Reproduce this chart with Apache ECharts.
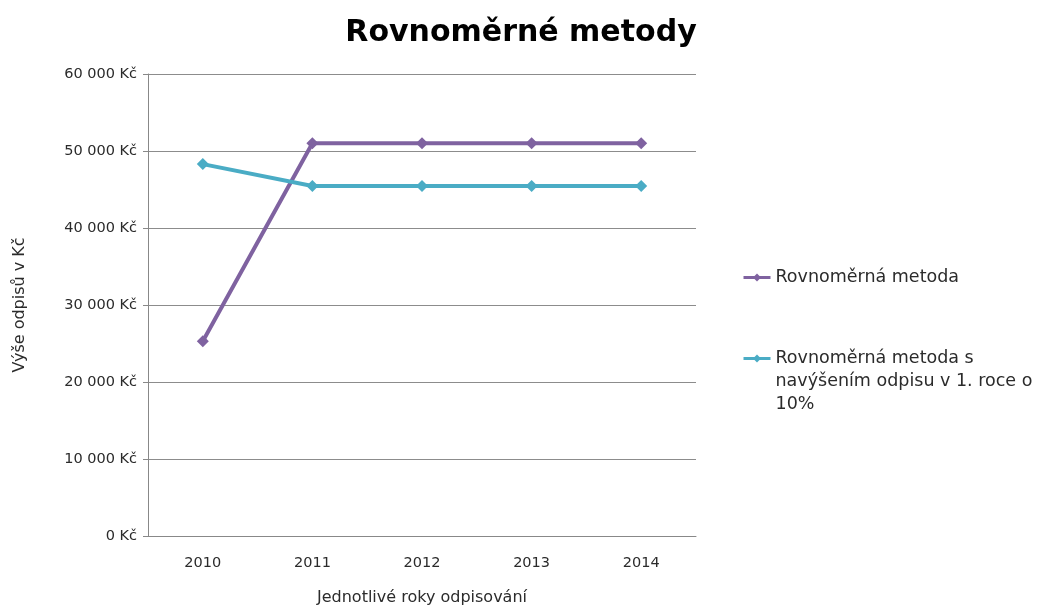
<!DOCTYPE html>
<html><head><meta charset="utf-8">
<script src="https://cdn.jsdelivr.net/npm/echarts@6/dist/echarts.min.js"></script>
<style>html,body{margin:0;padding:0;background:#fff}#c{width:1044px;height:605px}</style>
</head><body><div id="c"></div>
<script>
const categories = ['2010','2011','2012','2013','2014'];
const seriesNames = ['Rovnoměrná metoda', 'Rovnoměrná metoda s navýšením odpisu v 1. roce o 10%'];
const rovnomerna = [25300, 51000, 51000, 51000, 51000];
const navysena = [48300, 45450, 45450, 45450, 45450];
const yTicks = [0, 10000, 20000, 30000, 40000, 50000, 60000];

const fmt = v => (v === 0 ? '0' : String(v).replace(/\B(?=(\d{3})+(?!\d))/g, ' ')) + ' Kč';
const font = 'DejaVu Sans';
const txt = '#2b2b2b';
const chart = echarts.init(document.getElementById('c'));
chart.setOption({
  animation: false,
  title: { text: 'Rovnoměrné metody', left: 516, top: 13, textAlign: 'center',
    textStyle: { fontFamily: font, fontWeight: 'bold', fontSize: 30, color: '#000' } },
  grid: { left: 148, right: 348, top: 74, bottom: 69, outerBoundsMode: 'none', containLabel: false },
  legend: {
    orient: 'vertical', left: 737, top: 261, itemWidth: 27, itemHeight: 10, itemGap: 12,
    lineStyle: { width: 3 },
    textStyle: { fontFamily: font, fontSize: 17.5, color: txt, lineHeight: 23 },
    data: [ { name: seriesNames[0] }, { name: seriesNames[1] } ],
    formatter: n => n === seriesNames[1] ? '\n\nRovnoměrná metoda s\nnavýšením odpisu v 1. roce o\n10%' : n
  },
  xAxis: {
    type: 'category', data: categories, boundaryGap: true,
    name: 'Jednotlivé roky odpisování', nameLocation: 'middle', nameGap: 54,
    nameTextStyle: { fontFamily: font, fontSize: 16, color: txt },
    axisLine: { lineStyle: { color: '#888' } },
    axisTick: { length: 5, lineStyle: { color: '#888' } },
    axisLabel: { fontFamily: font, fontSize: 14.5, color: txt, margin: 20 }
  },
  yAxis: {
    type: 'value', min: 0, max: 60000, interval: 10000,
    name: 'Výše odpisů v Kč', nameLocation: 'middle', nameGap: 120, nameRotate: 90,
    nameTextStyle: { fontFamily: font, fontSize: 16, color: txt },
    axisLine: { show: true, lineStyle: { color: '#888' } },
    axisTick: { show: true, length: 5, lineStyle: { color: '#888' } },
    axisLabel: { fontFamily: font, fontSize: 14.5, color: txt, margin: 11, formatter: fmt },
    splitLine: { lineStyle: { color: '#8c8c8c', width: 1 } }
  },
  series: [
    { name: seriesNames[0], type: 'line', data: rovnomerna, symbol: 'diamond', symbolSize: 12,
      lineStyle: { width: 4, color: '#7f62a0' }, itemStyle: { color: '#7f62a0' } },
    { name: seriesNames[1], type: 'line', data: navysena, symbol: 'diamond', symbolSize: 12,
      lineStyle: { width: 4, color: '#4aacc5' }, itemStyle: { color: '#4aacc5' } }
  ]
});
</script></body></html>
